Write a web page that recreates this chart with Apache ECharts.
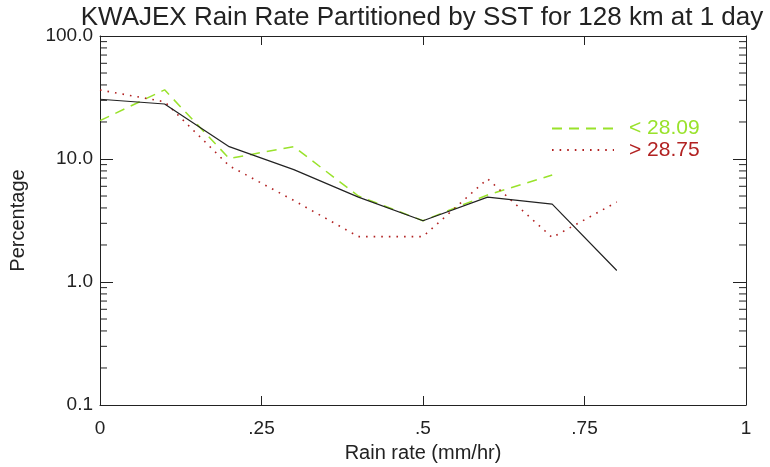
<!DOCTYPE html>
<html>
<head>
<meta charset="utf-8">
<script src="https://cdn.jsdelivr.net/npm/echarts@6/dist/echarts.min.js"></script>
<style>html,body{margin:0;padding:0;background:#fff}#c{width:770px;height:467px}</style>
</head>
<body>
<div id="c"></div>
<script>
// Data
const rainRate = [0, 0.1, 0.2, 0.3, 0.4, 0.5, 0.6, 0.7, 0.8];
const allPct  = [30.6, 28.0, 12.6, 8.2, 4.9, 3.15, 4.9, 4.3, 1.24];
const coldPct = [20.5, 36.5, 10.1, 12.6, 5.0, 3.15, 5.1, 7.4];
const warmPct = [36.4, 29.2, 8.8, 4.6, 2.34, 2.34, 6.9, 2.3, 4.47];
const coldName = '< 28.09';
const warmName = '> 28.75';
const xTickLabels = {'0': '0', '0.25': '.25', '0.5': '.5', '0.75': '.75', '1': '1'};
const yTickLabels = {'0.1': '0.1', '1': '1.0', '10': '10.0', '100': '100.0'};
const minorTickValues = [0.2,0.3,0.4,0.5,0.6,0.7,0.8,0.9, 2,3,4,5,6,7,8,9, 20,30,40,50,60,70,80,90];

const FONT = 'Liberation Sans';
const TXT = '#222';
const GREEN = '#99e22b';
const RED = '#b22222';

function pairs(xs, ys) { return ys.map((v, i) => [xs[i], v]); }

const chart = echarts.init(document.getElementById('c'), null, {renderer: 'canvas'});
chart.setOption({
  animation: false,
  backgroundColor: '#fff',
  textStyle: {fontFamily: FONT},
  graphic: [{
    type: 'text', x: 422, y: 18,
    style: {text: 'KWAJEX Rain Rate Partitioned by SST for 128 km at 1 day', align: 'center', verticalAlign: 'middle',
            font: '26px "' + FONT + '"', fill: TXT}
  }],
  grid: {left: 100, right: 24, top: 36, bottom: 62, containLabel: false, outerBoundsMode: 'none'},
  legend: {
    orient: 'vertical', left: 551, top: 118, padding: 0, itemWidth: 62, itemHeight: 14, itemGap: 0.4,
    itemStyle: {color: 'transparent', borderWidth: 0, opacity: 0},
    data: [
      {name: coldName, textStyle: {color: GREEN}},
      {name: warmName, textStyle: {color: RED}}
    ],
    textStyle: {fontFamily: FONT, fontSize: 21, lineHeight: 18, padding: [0, 0, 0, 10]}
  },
  xAxis: [{
    type: 'value', min: 0, max: 1, interval: 0.25, position: 'bottom',
    name: 'Rain rate (mm/hr)', nameLocation: 'middle', nameGap: 38, nameMoveOverlap: false,
    nameTextStyle: {fontFamily: FONT, fontSize: 20, color: TXT},
    axisLine: {show: true, onZero: false, lineStyle: {color: TXT, width: 1}},
    axisTick: {show: true, inside: true, length: 9, lineStyle: {color: TXT}},
    axisLabel: {margin: 14, fontFamily: FONT, fontSize: 19, color: TXT,
                formatter: v => xTickLabels[String(v)] ?? ''},
    splitLine: {show: false}
  }, {
    type: 'value', min: 0, max: 1, interval: 0.25, position: 'top',
    axisLine: {show: true, onZero: false, lineStyle: {color: TXT, width: 1}},
    axisTick: {show: true, inside: true, length: 9, lineStyle: {color: TXT}},
    axisLabel: {show: false}, splitLine: {show: false}
  }],
  yAxis: [{
    type: 'log', logBase: 10, min: 0.1, max: 100, position: 'left',
    name: 'Percentage', nameLocation: 'middle', nameGap: 72, nameMoveOverlap: false,
    nameTextStyle: {fontFamily: FONT, fontSize: 20, color: TXT},
    axisLine: {show: true, onZero: false, lineStyle: {color: TXT, width: 1}},
    axisTick: {show: true, inside: true, length: 13, lineStyle: {color: TXT}},
    axisLabel: {margin: 7, fontFamily: FONT, fontSize: 19, color: TXT,
                formatter: v => yTickLabels[String(+v.toPrecision(6))] ?? ''},
    splitLine: {show: false}
  }, {
    type: 'log', logBase: 10, min: 0.1, max: 100, position: 'right',
    axisLine: {show: true, onZero: false, lineStyle: {color: TXT, width: 1}},
    axisTick: {show: true, inside: true, length: 13, lineStyle: {color: TXT}},
    axisLabel: {show: false}, splitLine: {show: false}
  }],
  series: [
    {
      type: 'custom', name: 'minorTicks', silent: true, clip: false,
      xAxisIndex: 0, yAxisIndex: 0,
      data: minorTickValues.map(v => [0, v]),
      renderItem: (params, api) => {
        const v = api.value(1);
        const pl = api.coord([0, v]);
        const pr = api.coord([1, v]);
        return {type: 'group', children: [
          {type: 'line', shape: {x1: pl[0], y1: pl[1], x2: pl[0] + 7, y2: pl[1]}, style: {stroke: TXT, lineWidth: 1}},
          {type: 'line', shape: {x1: pr[0] - 7, y1: pr[1], x2: pr[0], y2: pr[1]}, style: {stroke: TXT, lineWidth: 1}}
        ]};
      }
    },
    {
      type: 'line', name: coldName, data: pairs(rainRate, coldPct), symbol: 'none',
      lineStyle: {color: GREEN, width: 1.5, type: [10, 7]}, itemStyle: {color: GREEN}
    },
    {
      type: 'line', name: warmName, data: pairs(rainRate, warmPct), symbol: 'none',
      lineStyle: {color: RED, width: 1.6, type: [1.6, 6]}, itemStyle: {color: RED}
    },
    {
      type: 'line', name: 'all', data: pairs(rainRate, allPct), symbol: 'none',
      lineStyle: {color: '#222', width: 1.2}, itemStyle: {color: '#222'}
    }
  ]
});
</script>
</body>
</html>
